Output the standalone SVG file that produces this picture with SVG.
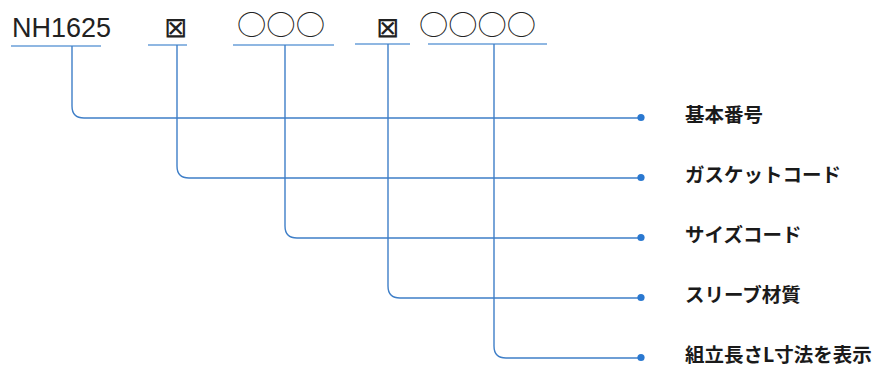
<svg xmlns="http://www.w3.org/2000/svg" width="882" height="368" viewBox="0 0 882 368">
<style>
.ln{fill:none;stroke:#3f7fc8;stroke-width:1.4}
.ul{fill:none;stroke:#6a9fd8;stroke-width:1.4}
.dot{fill:#2a78d0}
.code{font-family:"Liberation Sans",Arial,sans-serif;font-size:27px;fill:#222}
.box{font-family:"DejaVu Sans",sans-serif;font-weight:200;font-size:28px;fill:#222}
.circ{font-family:"Noto Sans CJK JP","DejaVu Sans",sans-serif;font-weight:300;font-size:27px;fill:#222}
.lbl{font-family:"Noto Sans CJK JP","Noto Sans",sans-serif;font-size:19.5px;font-weight:700;fill:#1a1a1a}
</style>
<rect width="882" height="368" fill="#fff"/>
<g id="code">
  <text class="code" x="12" y="37">NH1625</text>
  <line class="ul" x1="11" y1="46" x2="101" y2="46"/>
  <text class="box" x="175" y="37" text-anchor="middle">⊠</text>
  <line class="ul" x1="148" y1="45" x2="187" y2="45"/>
  <text class="circ" x="237" y="35" textLength="88" lengthAdjust="spacingAndGlyphs">○○○</text>
  <line class="ul" x1="233" y1="45" x2="334" y2="45"/>
  <text class="box" x="387" y="37" text-anchor="middle">⊠</text>
  <line class="ul" x1="355" y1="44" x2="410" y2="44"/>
  <text class="circ" x="419" y="35" textLength="117" lengthAdjust="spacingAndGlyphs">○○○○</text>
  <line class="ul" x1="428" y1="44" x2="547" y2="44"/>
</g>
<g id="connectors">
  <path class="ln" d="M72,46 V106 Q72,118 84,118 H641"/>
  <path class="ln" d="M177,45 V166 Q177,178 189,178 H641"/>
  <path class="ln" d="M285,45 V226 Q285,238 297,238 H641"/>
  <path class="ln" d="M388,44 V286 Q388,298 400,298 H641"/>
  <path class="ln" d="M494,44 V346 Q494,358 506,358 H641"/>
</g>
<g id="n1"><circle class="dot" cx="641" cy="117.5" r="3.6"/><text class="lbl" x="685" y="122">基本番号</text></g>
<g id="n2"><circle class="dot" cx="641" cy="177.5" r="3.6"/><text class="lbl" x="685" y="182">ガスケットコード</text></g>
<g id="n3"><circle class="dot" cx="641" cy="237.5" r="3.6"/><text class="lbl" x="685" y="242">サイズコード</text></g>
<g id="n4"><circle class="dot" cx="641" cy="297.5" r="3.6"/><text class="lbl" x="685" y="302">スリーブ材質</text></g>
<g id="n5"><circle class="dot" cx="641" cy="357.5" r="3.6"/><text class="lbl" x="685" y="362">組立長さL寸法を表示</text></g>
</svg>
